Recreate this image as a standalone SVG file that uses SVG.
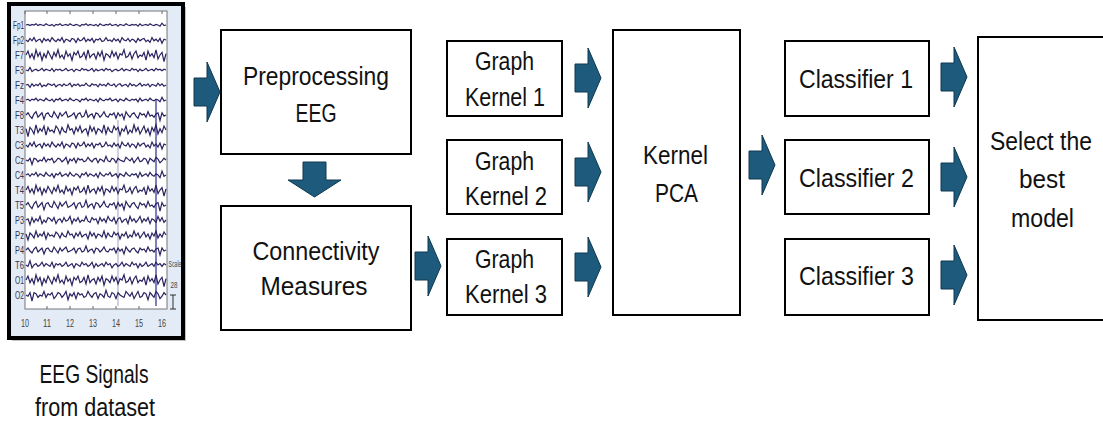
<svg xmlns="http://www.w3.org/2000/svg" xmlns:xlink="http://www.w3.org/1999/xlink" width="1103" height="423" viewBox="0 0 1103 423">
<style>
.box{fill:#ffffff;stroke:#000000;stroke-width:2}
.lbl{font-family:"Liberation Sans",Arial,sans-serif;font-size:25px;fill:#111111;text-anchor:middle}
.arr{fill:#1d5a7b;stroke:#0e3850;stroke-width:1}
.ch{font-family:"Liberation Sans",Arial,sans-serif;font-size:10px;fill:#333355;text-anchor:end}
.tk{font-family:"Liberation Sans",Arial,sans-serif;font-size:10px;fill:#444444;text-anchor:middle}
.wave{fill:none;stroke:#29235f;stroke-width:1.2;vector-effect:non-scaling-stroke}
</style>
<defs>
<path id="ar" d="M-26,-14 H-13 V-30 L0,0 L-13,30 V14 H-26 Z"/>
<polyline id="wA" class="wave" points="0,0 2,-1 4,1 6,-1 8,0 10,-2 12,1 14,-1 16,0 18,1 20,-2 22,0 24,1 26,-1 28,2 30,-1 32,0 34,-2 36,1 38,0 40,-1 42,1 44,-2 46,0 48,1 50,-1 52,0 54,2 56,-1 58,0 60,-2 62,1 64,-1 66,0 68,1 70,-1 72,2 74,-2 76,0 78,1 80,-1 82,0 84,-2 86,1 88,0 90,-1 92,2 94,-1 96,0 98,1 100,-2 102,0 104,1 106,-1 108,0 110,-1 112,2 114,-2 116,1 118,0 120,-1 122,1 124,-2 126,0 128,1 130,-1 132,0 134,2 136,-3 138,1 140,0"/>
<polyline id="wB" class="wave" points="0,0 2,-3 4,2 6,-1 8,3 10,-4 12,1 14,-2 16,4 18,-1 20,2 22,-3 24,0 26,3 28,-2 30,1 32,-4 34,2 36,0 38,3 40,-3 42,1 44,-1 46,4 48,-2 50,0 52,-3 54,2 56,1 58,-2 60,3 62,-4 64,2 66,0 68,-1 70,3 72,-2 74,1 76,-3 78,4 80,-1 82,0 84,2 86,-3 88,1 90,-2 92,3 94,-1 96,0 98,-4 100,2 102,1 104,-2 106,3 108,-1 110,-3 112,2 114,0 116,1 118,-2 120,4 122,-3 124,1 126,-1 128,2 130,-4 132,3 134,0 136,-2 138,5 140,-1"/>
<polyline id="wC" class="wave" points="0,0 2,2 4,-2 6,1 8,-3 10,2 12,0 14,-1 16,3 18,-2 20,1 22,-1 24,2 26,-3 28,0 30,2 32,-1 34,1 36,-3 38,3 40,-1 42,0 44,2 46,-2 48,-1 50,3 52,-2 54,1 56,0 58,-3 60,2 62,-1 64,1 66,-2 68,3 70,-1 72,0 74,-2 76,2 78,1 80,-3 82,1 84,0 86,2 88,-2 90,1 92,-1 94,3 96,-3 98,0 100,1 102,-2 104,2 106,-1 108,0 110,3 112,-2 114,1 116,-1 118,-2 120,2 122,0 124,3 126,-3 128,1 130,-1 132,2 134,-2 136,4 138,-1 140,0"/>
<polyline id="wD" class="wave" points="0,0 2,-2 4,1 6,3 8,-1 10,-3 12,2 14,0 16,-2 18,4 20,-1 22,-2 24,1 26,2 28,-3 30,0 32,3 34,-2 36,1 38,-1 40,-3 42,2 44,1 46,0 48,-2 50,3 52,-1 54,-2 56,2 58,1 60,-4 62,2 64,0 66,-1 68,3 70,-2 72,-1 74,2 76,0 78,-3 80,1 82,2 84,-1 86,0 88,-2 90,3 92,-2 94,1 96,-1 98,4 100,-3 102,0 104,2 106,-1 108,-2 110,1 112,3 114,-2 116,0 118,-1 120,2 122,-3 124,1 126,0 128,2 130,-1 132,-2 134,5 136,-2 138,1 140,0"/>
</defs>

<g id="eeg-signals">
<rect x="12" y="7" width="174" height="334" fill="#9a9a9a" opacity="0.6"/>
<rect x="9" y="4" width="174" height="334" fill="#e3ebf6" stroke="#000000" stroke-width="4"/>
<rect x="25" y="11" width="142" height="298" fill="#ffffff" stroke="#777777" stroke-width="1"/>
<g stroke="#666666" stroke-width="1">
<line x1="25" y1="11" x2="25" y2="14"/><line x1="47" y1="11" x2="47" y2="14"/><line x1="70" y1="11" x2="70" y2="14"/><line x1="93" y1="11" x2="93" y2="14"/><line x1="116" y1="11" x2="116" y2="14"/><line x1="139" y1="11" x2="139" y2="14"/><line x1="162" y1="11" x2="162" y2="14"/>
<line x1="47" y1="306" x2="47" y2="309"/><line x1="70" y1="306" x2="70" y2="309"/><line x1="93" y1="306" x2="93" y2="309"/><line x1="116" y1="306" x2="116" y2="309"/><line x1="139" y1="306" x2="139" y2="309"/>
</g>
<line x1="118" y1="120" x2="118" y2="306" stroke="#8a88b0" stroke-width="0.8"/>
<line x1="156" y1="100" x2="156" y2="306" stroke="#3b3a9a" stroke-width="1.3"/>
<use href="#wA" transform="translate(26,25) scale(1,0.6)"/>
<use href="#wC" transform="translate(26,40) scale(1,0.8)"/>
<use href="#wB" transform="translate(26,55) scale(1,1.3)"/>
<use href="#wA" transform="translate(166,70) scale(-1,0.8)"/>
<use href="#wC" transform="translate(166,85) scale(-1,0.6)"/>
<use href="#wA" transform="translate(26,100) scale(1,0.9)"/>
<use href="#wD" transform="translate(26,115) scale(1,1.1)"/>
<use href="#wB" transform="translate(166,130) scale(-1,1.3)"/>
<use href="#wC" transform="translate(26,145) scale(1,1)"/>
<use href="#wD" transform="translate(166,160) scale(-1,0.9)"/>
<use href="#wA" transform="translate(26,175) scale(1,1.3)"/>
<use href="#wB" transform="translate(26,190) scale(1,1.2)"/>
<use href="#wD" transform="translate(26,205) scale(1,1.2)"/>
<use href="#wC" transform="translate(166,220) scale(-1,1.2)"/>
<use href="#wB" transform="translate(166,235) scale(-1,1)"/>
<use href="#wD" transform="translate(26,250) scale(1,1)"/>
<use href="#wA" transform="translate(166,265) scale(-1,1.4)"/>
<use href="#wB" transform="translate(26,280) scale(1,1.3)"/>
<use href="#wD" transform="translate(166,295) scale(-1,1.2)"/>
<text class="ch" x="24" y="29" textLength="11" lengthAdjust="spacingAndGlyphs">Fp1</text>
<text class="ch" x="24" y="44" textLength="11" lengthAdjust="spacingAndGlyphs">Fp2</text>
<text class="ch" x="24" y="59" textLength="9" lengthAdjust="spacingAndGlyphs">F7</text>
<text class="ch" x="24" y="74" textLength="9" lengthAdjust="spacingAndGlyphs">F3</text>
<text class="ch" x="24" y="89" textLength="9" lengthAdjust="spacingAndGlyphs">Fz</text>
<text class="ch" x="24" y="104" textLength="9" lengthAdjust="spacingAndGlyphs">F4</text>
<text class="ch" x="24" y="119" textLength="9" lengthAdjust="spacingAndGlyphs">F8</text>
<text class="ch" x="24" y="134" textLength="9" lengthAdjust="spacingAndGlyphs">T3</text>
<text class="ch" x="24" y="149" textLength="9" lengthAdjust="spacingAndGlyphs">C3</text>
<text class="ch" x="24" y="164" textLength="9" lengthAdjust="spacingAndGlyphs">Cz</text>
<text class="ch" x="24" y="179" textLength="9" lengthAdjust="spacingAndGlyphs">C4</text>
<text class="ch" x="24" y="194" textLength="9" lengthAdjust="spacingAndGlyphs">T4</text>
<text class="ch" x="24" y="209" textLength="9" lengthAdjust="spacingAndGlyphs">T5</text>
<text class="ch" x="24" y="224" textLength="9" lengthAdjust="spacingAndGlyphs">P3</text>
<text class="ch" x="24" y="239" textLength="9" lengthAdjust="spacingAndGlyphs">Pz</text>
<text class="ch" x="24" y="254" textLength="9" lengthAdjust="spacingAndGlyphs">P4</text>
<text class="ch" x="24" y="269" textLength="9" lengthAdjust="spacingAndGlyphs">T6</text>
<text class="ch" x="24" y="284" textLength="9" lengthAdjust="spacingAndGlyphs">O1</text>
<text class="ch" x="24" y="299" textLength="9" lengthAdjust="spacingAndGlyphs">O2</text>
<text class="tk" x="25" y="327" textLength="8" lengthAdjust="spacingAndGlyphs">10</text>
<text class="tk" x="47" y="327" textLength="8" lengthAdjust="spacingAndGlyphs">11</text>
<text class="tk" x="70" y="327" textLength="8" lengthAdjust="spacingAndGlyphs">12</text>
<text class="tk" x="93" y="327" textLength="8" lengthAdjust="spacingAndGlyphs">13</text>
<text class="tk" x="116" y="327" textLength="8" lengthAdjust="spacingAndGlyphs">14</text>
<text class="tk" x="139" y="327" textLength="8" lengthAdjust="spacingAndGlyphs">15</text>
<text class="tk" x="162" y="327" textLength="8" lengthAdjust="spacingAndGlyphs">16</text>
<text class="tk" x="175" y="267" style="font-size:9px" textLength="13" lengthAdjust="spacingAndGlyphs">Scale</text>
<text class="tk" x="174" y="288" style="font-size:9px" textLength="7" lengthAdjust="spacingAndGlyphs">28</text>
<g stroke="#333333" stroke-width="1"><line x1="173" y1="295" x2="173" y2="309"/><line x1="170" y1="295" x2="176" y2="295"/><line x1="170" y1="309" x2="176" y2="309"/></g>
<text class="lbl" x="94" y="383" textLength="109" lengthAdjust="spacingAndGlyphs">EEG Signals</text>
<text class="lbl" x="95" y="416" textLength="120" lengthAdjust="spacingAndGlyphs">from dataset</text>
</g>

<g id="preprocessing">
<rect class="box" x="221" y="30" width="190" height="124"/>
<text class="lbl" x="316" y="85" textLength="146" lengthAdjust="spacingAndGlyphs">Preprocessing</text>
<text class="lbl" x="316" y="122" textLength="41" lengthAdjust="spacingAndGlyphs">EEG</text>
</g>
<g id="connectivity">
<rect class="box" x="221" y="206" width="190" height="124"/>
<text class="lbl" x="316" y="260" textLength="127" lengthAdjust="spacingAndGlyphs">Connectivity</text>
<text class="lbl" x="314" y="295" textLength="107" lengthAdjust="spacingAndGlyphs">Measures</text>
</g>
<g id="graph-kernel-1">
<rect class="box" x="447" y="41" width="115" height="75"/>
<text class="lbl" x="504.5" y="70" textLength="59" lengthAdjust="spacingAndGlyphs">Graph</text>
<text class="lbl" x="505" y="106" textLength="80" lengthAdjust="spacingAndGlyphs">Kernel 1</text>
</g>
<g id="graph-kernel-2">
<rect class="box" x="447" y="140" width="115" height="74"/>
<text class="lbl" x="504.5" y="170" textLength="59" lengthAdjust="spacingAndGlyphs">Graph</text>
<text class="lbl" x="506" y="205" textLength="82" lengthAdjust="spacingAndGlyphs">Kernel 2</text>
</g>
<g id="graph-kernel-3">
<rect class="box" x="447" y="239" width="115" height="76"/>
<text class="lbl" x="504.5" y="268" textLength="59" lengthAdjust="spacingAndGlyphs">Graph</text>
<text class="lbl" x="506" y="303" textLength="82" lengthAdjust="spacingAndGlyphs">Kernel 3</text>
</g>
<g id="kernel-pca">
<rect class="box" x="613" y="30" width="127" height="285"/>
<text class="lbl" x="675.5" y="164" textLength="65" lengthAdjust="spacingAndGlyphs">Kernel</text>
<text class="lbl" x="676.5" y="202" textLength="43" lengthAdjust="spacingAndGlyphs">PCA</text>
</g>
<g id="classifier-1">
<rect class="box" x="785" y="41" width="144" height="75"/>
<text class="lbl" x="856" y="88" textLength="114" lengthAdjust="spacingAndGlyphs">Classifier 1</text>
</g>
<g id="classifier-2">
<rect class="box" x="785" y="140" width="144" height="74"/>
<text class="lbl" x="856.5" y="187" textLength="115" lengthAdjust="spacingAndGlyphs">Classifier 2</text>
</g>
<g id="classifier-3">
<rect class="box" x="785" y="239" width="144" height="76"/>
<text class="lbl" x="856.5" y="285" textLength="115" lengthAdjust="spacingAndGlyphs">Classifier 3</text>
</g>
<g id="select-best">
<rect class="box" x="978" y="37" width="140" height="283"/>
<text class="lbl" x="1041" y="150" textLength="102" lengthAdjust="spacingAndGlyphs">Select the</text>
<text class="lbl" x="1042" y="188" textLength="46" lengthAdjust="spacingAndGlyphs">best</text>
<text class="lbl" x="1042.5" y="227" textLength="63" lengthAdjust="spacingAndGlyphs">model</text>
</g>

<g id="connectors">
<use href="#ar" class="arr" x="220" y="92"/>
<path class="arr" d="M303,162 H326 V180 H341 L314.5,197 L288,180 H303 Z"/>
<use href="#ar" class="arr" x="441" y="266"/>
<use href="#ar" class="arr" x="601" y="78"/>
<use href="#ar" class="arr" x="601" y="172"/>
<use href="#ar" class="arr" x="601" y="267"/>
<use href="#ar" class="arr" x="775" y="165"/>
<use href="#ar" class="arr" x="967" y="77"/>
<use href="#ar" class="arr" x="967" y="177"/>
<use href="#ar" class="arr" x="967" y="275"/>
</g>
</svg>
